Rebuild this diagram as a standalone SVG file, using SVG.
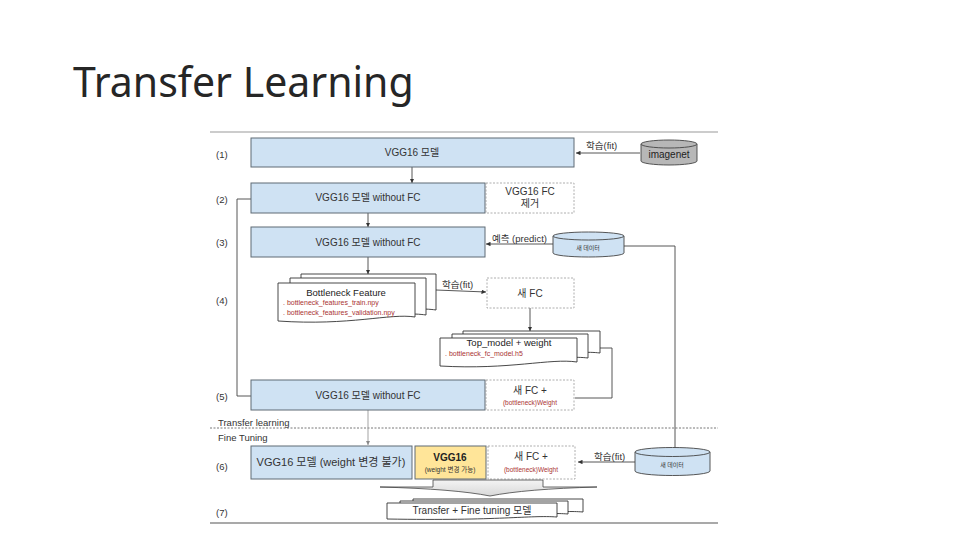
<svg xmlns="http://www.w3.org/2000/svg" width="960" height="540" viewBox="0 0 960 540">
<style>
.t{font-family:"Liberation Sans","Noto Sans CJK KR",sans-serif;fill:#333;}
.c{text-anchor:middle;}
.blue{fill:#cfe2f3;stroke:#5f6b75;stroke-width:1;}
.dash{fill:#fff;stroke:#999;stroke-width:0.8;stroke-dasharray:2 1.5;}
.doc{fill:#fff;stroke:#333;stroke-width:0.9;}
.red{fill:#a33;}
.ln{fill:none;stroke:#444;stroke-width:0.9;}
</style>
<defs>
<marker id="ah" viewBox="0 0 6 6" refX="6" refY="3" markerWidth="5" markerHeight="5" orient="auto">
<path d="M0,0 L6,3 L0,6 Z" fill="#333"/>
</marker>
<marker id="ahg" viewBox="0 0 6 6" refX="6" refY="3" markerWidth="5" markerHeight="5" orient="auto">
<path d="M0,0 L6,3 L0,6 Z" fill="#888"/>
</marker>
<linearGradient id="mg" x1="0" y1="0" x2="0" y2="1">
<stop offset="0" stop-color="#f4f4f4"/>
<stop offset="1" stop-color="#d8d8d8"/>
</linearGradient>
</defs>
<rect width="960" height="540" fill="#fff"/>
<text x="73" y="97" style="font-family:'Noto Sans','Open Sans',sans-serif;font-size:41px;fill:#262626">Transfer Learning</text>

<line x1="210" y1="132" x2="718" y2="132" stroke="#999" stroke-width="1"/>
<line x1="210" y1="523" x2="718" y2="523" stroke="#555" stroke-width="1.2"/>
<line x1="210" y1="428" x2="718" y2="428" stroke="#555" stroke-width="0.8" stroke-dasharray="2 1.5"/>
<text class="t" x="218" y="426" font-size="9.5">Transfer learning</text>
<text class="t" x="218" y="441" font-size="9.5">Fine Tuning</text>

<g id="step-labels" class="t">
<text x="216" y="158" font-size="9.5">(1)</text>
<text x="216" y="203" font-size="9.5">(2)</text>
<text x="216" y="246" font-size="9.5">(3)</text>
<text x="216" y="304" font-size="9.5">(4)</text>
<text x="216" y="400" font-size="9.5">(5)</text>
<text x="216" y="470" font-size="9.5">(6)</text>
<text x="216" y="516" font-size="9.5">(7)</text>
</g>

<g id="connectors">
<line class="ln" x1="412" y1="167" x2="412" y2="183" marker-end="url(#ah)"/>
<line class="ln" x1="640" y1="153" x2="576" y2="153" marker-end="url(#ah)"/>
<line class="ln" x1="368" y1="213" x2="368" y2="227" marker-end="url(#ah)"/>
<line class="ln" x1="555" y1="244" x2="486" y2="244" marker-end="url(#ah)"/>
<line class="ln" x1="368" y1="257" x2="368" y2="274" marker-end="url(#ah)"/>
<polyline class="ln" points="251,199 237,199 237,396 251,396"/>
<polyline class="ln" points="624,246 675,246 675,451"/>
<line class="ln" x1="436" y1="290" x2="486" y2="292" marker-end="url(#ah)"/>
<line class="ln" x1="530" y1="308" x2="530" y2="331" marker-end="url(#ah)"/>
<polyline class="ln" points="600,348 612,348 612,398 575,398"/>
<line x1="368" y1="410" x2="368" y2="445" stroke="#999" stroke-width="0.9" marker-end="url(#ahg)"/>
<line class="ln" x1="635" y1="462" x2="578" y2="462" marker-end="url(#ah)"/>
<text class="t" x="586" y="149" font-size="9.5">학습(fit)</text>
<text class="t" x="492" y="242" font-size="9.5">예측 (predict)</text>
<text class="t" x="442" y="288" font-size="9.5">학습(fit)</text>
<text class="t" x="594" y="460" font-size="9.5">학습(fit)</text>
</g>

<g id="n1">
<rect class="blue" x="251" y="138" width="323" height="29"/>
<text class="t c" x="412" y="156" font-size="10">VGG16 모델</text>
</g>
<g id="imagenet">
<path d="M641,144 V161 A28,4 0 0 0 697,161 V144" fill="#b7b7b7" stroke="#444" stroke-width="0.9"/>
<ellipse cx="669" cy="144" rx="28" ry="4" fill="#b7b7b7" stroke="#444" stroke-width="0.9"/>
<text class="t c" x="669" y="158" font-size="10" style="fill:#222">imagenet</text>
</g>

<g id="n2">
<rect class="blue" x="251" y="183" width="234" height="30"/>
<text class="t c" x="368" y="201" font-size="10">VGG16 모델 without FC</text>
</g>
<g id="n2-fc">
<rect class="dash" x="486" y="183" width="88" height="30"/>
<text class="t c" x="530" y="195" font-size="10">VGG16 FC</text>
<text class="t c" x="530" y="207" font-size="10">제거</text>
</g>

<g id="n3">
<rect class="blue" x="251" y="227" width="234" height="30"/>
<text class="t c" x="368" y="246" font-size="10">VGG16 모델 without FC</text>
</g>
<g id="newdata1">
<path d="M553,236 V253 A35.5,4 0 0 0 624,253 V236" fill="#cfe2f3" stroke="#444" stroke-width="0.9"/>
<ellipse cx="588.5" cy="236" rx="35.5" ry="4" fill="#cfe2f3" stroke="#444" stroke-width="0.9"/>
<text class="t c" x="588" y="250" font-size="6">새 데이터</text>
</g>

<g id="n4-bottleneck">
<path class="doc" d="M301,274 H436 V310 C410,306 380,316 301,312 Z"/>
<path class="doc" d="M290,278 H426 V315 C400,311 370,321 290,317 Z"/>
<path class="doc" d="M278,283 H415 V317 C390,313 350,326 278,321 Z"/>
<text class="t c" x="346" y="296" font-size="9.5" style="fill:#222">Bottleneck Feature</text>
<text class="t red" x="283" y="305" font-size="7">. bottleneck_features_train.npy</text>
<text class="t red" x="283" y="315" font-size="7">. bottleneck_features_validation.npy</text>
</g>

<g id="n4-fc">
<rect class="dash" x="487" y="278" width="87" height="30"/>
<text class="t c" x="530" y="297" font-size="10">새  FC</text>
</g>

<g id="n4-topmodel">
<path class="doc" d="M463,331 H600 V353 C575,350 550,358 463,355 Z"/>
<path class="doc" d="M452,334 H588 V358 C563,355 530,363 452,360 Z"/>
<path class="doc" d="M440,338 H577 V362 C550,358 510,370 440,366 Z"/>
<text class="t c" x="509" y="346" font-size="9.5" style="fill:#222">Top_model + weight</text>
<text class="t red" x="445" y="356" font-size="7">. bottleneck_fc_model.h5</text>
</g>

<g id="n5">
<rect class="blue" x="251" y="380" width="234" height="30"/>
<text class="t c" x="368" y="399" font-size="10">VGG16 모델 without FC</text>
</g>
<g id="n5-fc">
<rect class="dash" x="486" y="380" width="88" height="30"/>
<text class="t c" x="530" y="394" font-size="10">새  FC +</text>
<text class="t c red" x="530" y="405" font-size="6.5">(bottleneck)Weight</text>
</g>

<g id="n6">
<rect class="blue" x="251" y="446" width="161" height="33"/>
<text class="t c" x="331" y="466" font-size="11">VGG16 모델 (weight 변경 불가)</text>
</g>
<g id="n6-vgg">
<rect x="415" y="446" width="71" height="33" fill="#ffe599" stroke="#5f6b75" stroke-width="1"/>
<text class="t c" x="450" y="461" font-size="10" font-weight="bold" style="fill:#222">VGG16</text>
<text class="t c" x="450" y="472" font-size="6.5">(weight 변경 가능)</text>
</g>
<g id="n6-fc">
<rect class="dash" x="488" y="446" width="87" height="33"/>
<text class="t c" x="531" y="460" font-size="10">새  FC +</text>
<text class="t c red" x="531" y="472" font-size="6.5">(bottleneck)Weight</text>
</g>
<g id="newdata2">
<path d="M635,452 V471 A37.5,4.5 0 0 0 710,471 V452" fill="#cfe2f3" stroke="#444" stroke-width="0.9"/>
<ellipse cx="672.5" cy="452" rx="37.5" ry="4.5" fill="#cfe2f3" stroke="#444" stroke-width="0.9"/>
<text class="t c" x="672" y="467" font-size="6">새 데이터</text>
</g>

<g id="merge-arrow">
<path d="M433,480 H543 V487 H597 Q525,489 490,496 Q455,489 380,487 H433 Z" fill="url(#mg)" stroke="#444" stroke-width="0.8"/>
</g>

<g id="n7">
<path class="doc" d="M413,499 H583 V512 C560,510 540,515 413,513 Z"/>
<path class="doc" d="M400,501 H568 V514 C545,512 520,517 400,516 Z"/>
<path class="doc" d="M387,503 H557 V517 C530,515 500,521 387,519 Z"/>
<text class="t c" x="472" y="514" font-size="10">Transfer + Fine tuning 모델</text>
</g>
</svg>
